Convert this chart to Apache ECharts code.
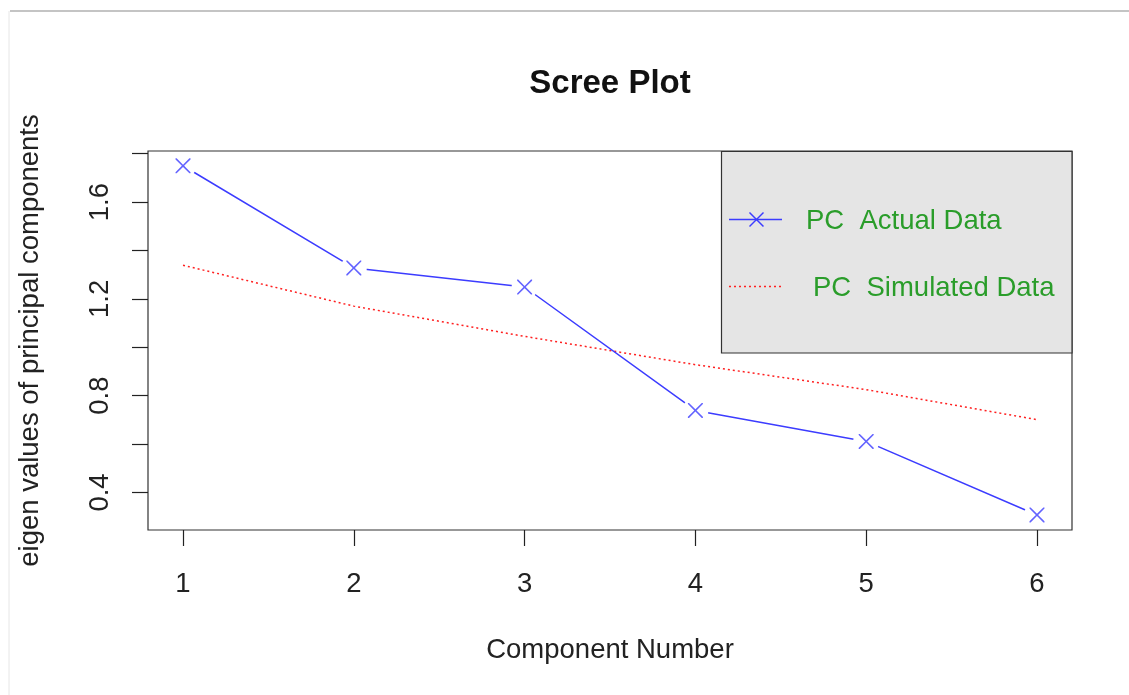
<!DOCTYPE html>
<html><head><meta charset="utf-8">
<script src="https://cdn.jsdelivr.net/npm/echarts@6/dist/echarts.min.js"></script>
<style>html,body{margin:0;padding:0;background:#fff}#c{width:1129px;height:695px}</style>
</head><body><div id="c"></div>
<script>
const components = [1, 2, 3, 4, 5, 6];
const actualEigen = [1.750, 1.328, 1.249, 0.739, 0.611, 0.307];
const simulatedEigen = [1.339, 1.170, 1.045, 0.928, 0.825, 0.701];
const yTickValues = [0.4, 0.6, 0.8, 1.0, 1.2, 1.4, 1.6, 1.8];
const yLabelValues = [0.4, 0.8, 1.2, 1.6];
const xTickValues = [1, 2, 3, 4, 5, 6];
const titleText = 'Scree Plot';
const xName = 'Component Number';
const yName = 'eigen values of principal components';
const legendNames = ['PC  Actual Data', 'PC  Simulated Data'];

const FONT = '"Liberation Sans", Arial, sans-serif';
const FS = 27.5;
const BLUE = '#3c3cff';
const RED = '#ff2020';
const GREEN = '#2a9d2a';
const XSYM = 'path://M0,0L1.5,0L10,8.5L18.5,0L20,0L20,1.5L11.5,10L20,18.5L20,20L18.5,20L10,11.5L1.5,20L0,20L0,18.5L8.5,10L0,1.5Z';

const actualPts = components.map((c, i) => [c, actualEigen[i]]);
const simPts = components.map((c, i) => [c, simulatedEigen[i]]);

const chart = echarts.init(document.getElementById('c'), null, {renderer: 'canvas'});
chart.setOption({
  animation: false,
  backgroundColor: '#fff',
  title: {
    text: titleText, left: 610, top: 67, textAlign: 'center', padding: 0,
    textStyle: {fontFamily: FONT, fontSize: 33, fontWeight: 'bold', color: '#111'}
  },
  grid: {left: 148, right: 57, top: 151, bottom: 165, show: true,
         borderColor: '#333', borderWidth: 1.2, backgroundColor: 'transparent'},
  xAxis: {
    type: 'value', min: 0.795, max: 6.205,
    name: xName, nameLocation: 'middle', nameGap: 106,
    nameTextStyle: {fontFamily: FONT, fontSize: FS, color: '#222'},
    axisLine: {show: false},
    splitLine: {show: false},
    axisTick: {show: true, inside: false, length: 16, customValues: xTickValues,
               lineStyle: {color: '#222', width: 1.2}},
    axisLabel: {show: true, customValues: xTickValues, margin: 40,
                fontFamily: FONT, fontSize: FS, color: '#222'}
  },
  yAxis: {
    type: 'value', min: 0.245, max: 1.811,
    name: yName, nameLocation: 'middle', nameGap: 104, nameRotate: 90,
    nameTextStyle: {fontFamily: FONT, fontSize: FS, color: '#222'},
    axisLine: {show: false},
    splitLine: {show: false},
    axisTick: {show: true, inside: false, length: 16, customValues: yTickValues,
               lineStyle: {color: '#222', width: 1.2}},
    axisLabel: {show: true, customValues: yLabelValues, rotate: 90, margin: 34,
                fontFamily: FONT, fontSize: FS, color: '#222',
                formatter: v => v.toFixed(1)}
  },
  series: [
    {
      name: legendNames[1], type: 'line', data: simPts, z: 2,
      symbol: 'none', silent: true,
      lineStyle: {color: RED, width: 1.5, type: [2, 3]}
    },
    {
      name: legendNames[0], type: 'line', data: actualPts, z: 3,
      symbol: 'circle', symbolSize: 26, showSymbol: true, silent: true,
      itemStyle: {color: '#ffffff', borderWidth: 0},
      lineStyle: {color: BLUE, width: 1.5}
    },
    {
      name: legendNames[0] + ' markers', type: 'scatter', data: actualPts, z: 4,
      symbol: XSYM, symbolSize: 15, silent: true,
      itemStyle: {color: BLUE}
    }
  ],
  graphic: [
    {type: 'line', shape: {x1: 10, y1: 11, x2: 1129, y2: 11}, style: {stroke: '#c4c4c4', lineWidth: 2}, z: 0},
    {type: 'line', shape: {x1: 9, y1: 11, x2: 9, y2: 695}, style: {stroke: '#e6e6e6', lineWidth: 1}, z: 0},
    {type: 'rect', shape: {x: 721.5, y: 151.5, width: 350.5, height: 201.5},
     style: {fill: '#e5e5e5', stroke: '#333', lineWidth: 1.2}, z: 10},
    {type: 'line', shape: {x1: 729, y1: 219.5, x2: 782, y2: 219.5}, style: {stroke: BLUE, lineWidth: 1.5}, z: 11},
    {type: 'line', shape: {x1: 749.5, y1: 212.5, x2: 763.5, y2: 226.5}, style: {stroke: BLUE, lineWidth: 1.5}, z: 11},
    {type: 'line', shape: {x1: 763.5, y1: 212.5, x2: 749.5, y2: 226.5}, style: {stroke: BLUE, lineWidth: 1.5}, z: 11},
    {type: 'line', shape: {x1: 729, y1: 286.5, x2: 783, y2: 286.5}, style: {stroke: RED, lineWidth: 1.5, lineDash: [2, 3]}, z: 11},
    {type: 'text', x: 806, y: 221, z: 11,
     style: {text: legendNames[0], fill: GREEN, font: FS + 'px ' + FONT, textAlign: 'left', textVerticalAlign: 'middle'}},
    {type: 'text', x: 813, y: 288, z: 11,
     style: {text: legendNames[1], fill: GREEN, font: FS + 'px ' + FONT, textAlign: 'left', textVerticalAlign: 'middle'}}
  ]
});
</script>
</body></html>
